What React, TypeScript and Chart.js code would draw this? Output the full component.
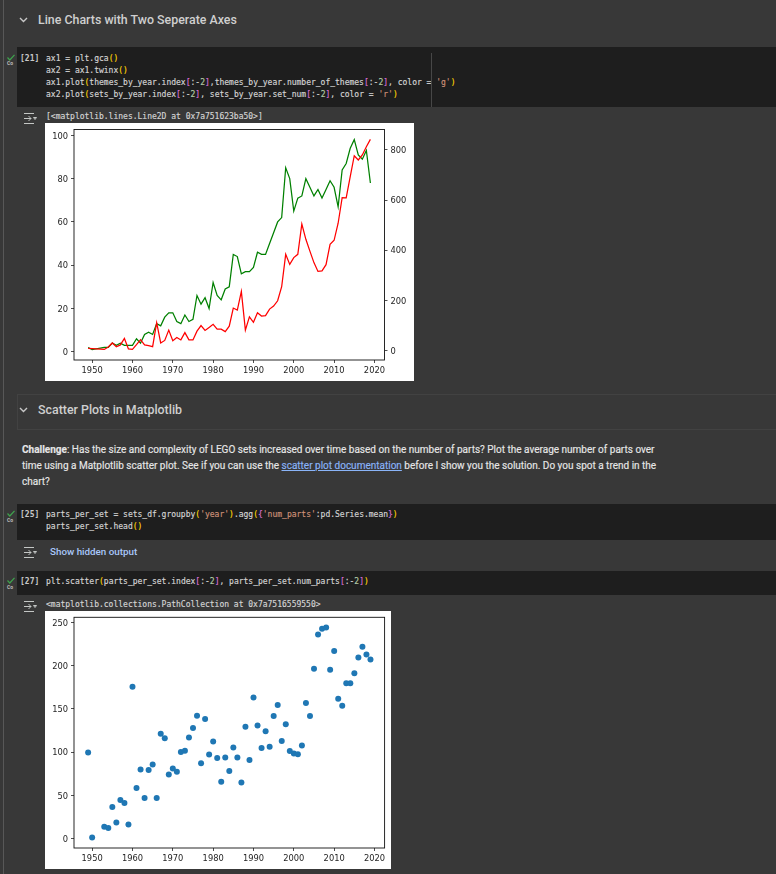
import React, { useRef, useEffect } from "react";
import Chart from "chart.js/auto";

// 1951 and 1952 have no sets in the data, so the lines jump straight across them
const years = [
  1949, 1950, 1953, 1954, 1955, 1956, 1957, 1958, 1959, 1960, 1961, 1962, 1963, 1964, 1965, 1966,
  1967, 1968, 1969, 1970, 1971, 1972, 1973, 1974, 1975, 1976, 1977, 1978, 1979, 1980, 1981, 1982,
  1983, 1984, 1985, 1986, 1987, 1988, 1989, 1990, 1991, 1992, 1993, 1994, 1995, 1996, 1997, 1998,
  1999, 2000, 2001, 2002, 2003, 2004, 2005, 2006, 2007, 2008, 2009, 2010, 2011, 2012, 2013, 2014,
  2015, 2016, 2017, 2018, 2019,
];

const themesPerYear = [
  2, 1, 2, 2, 4, 3, 4, 3, 3, 3, 6, 4, 8, 9, 8, 13,
  12, 16, 18, 18, 14, 13, 17, 14, 15, 26, 22, 25, 20, 32, 26, 24,
  29, 30, 45, 44, 36, 37, 37, 39, 46, 45, 45, 50, 55, 60, 62, 85,
  80, 65, 71, 72, 80, 76, 72, 75, 71, 75, 79, 76, 67, 84, 87, 94,
  98, 91, 89, 93, 78,
];

const setsPerYear = [
  9, 8, 5, 15, 31, 16, 23, 49, 7, 5, 24, 44, 23, 20, 16, 112,
  31, 41, 82, 40, 53, 43, 72, 43, 43, 78, 100, 81, 93, 105, 86, 86,
  76, 98, 170, 162, 236, 82, 135, 113, 151, 138, 140, 166, 178, 199, 255, 384,
  344, 371, 384, 505, 444, 397, 351, 316, 318, 343, 424, 440, 508, 610, 609, 694,
  777, 760, 780, 813, 842,
];

const partsPerSet = [
  99.8, 1.5, 13.9, 12.3, 36.6, 18.9, 44.7, 41.2, 16.6, 175.6, 58.6, 80.1, 47, 79.4, 85.9, 47,
  121.3, 116.3, 74.3, 81.3, 77.4, 100.2, 101.7, 117, 127.9, 142.1, 87.4, 138.3, 97.5, 112.5, 93.2, 65.9,
  94, 78.2, 105.5, 94, 65.1, 129.4, 90.9, 163.3, 131, 104.8, 124.4, 106.3, 141.8, 154.5, 112.9, 132.5,
  101.3, 98.6, 97.8, 107.9, 156.8, 141.8, 196.5, 236.1, 242.7, 244.2, 195.3, 216.9, 161.8, 153.7, 179.9, 179.9,
  191.4, 209.6, 221.9, 213, 207.2,
];

const yearTicks = [1950, 1960, 1970, 1980, 1990, 2000, 2010, 2020];
const themeTicks = [0, 20, 40, 60, 80, 100];
const setTicks = [0, 200, 400, 600, 800];
const partTicks = [0, 50, 100, 150, 200, 250];

const codeCell21 = [
  "ax1 = plt.gca()",
  "ax2 = ax1.twinx()",
  "ax1.plot(themes_by_year.index[:-2],themes_by_year.number_of_themes[:-2], color = 'g')",
  "ax2.plot(sets_by_year.index[:-2], sets_by_year.set_num[:-2], color = 'r')",
];
const codeCell25 = [
  "parts_per_set = sets_df.groupby('year').agg({'num_parts':pd.Series.mean})",
  "parts_per_set.head()",
];
const codeCell27 = ["plt.scatter(parts_per_set.index[:-2], parts_per_set.num_parts[:-2])"];

const zip = (ys: number[]) => years.map((x, i) => ({ x, y: ys[i] }));

const spines = {
  id: "spines",
  afterDraw(chart: any) {
    const { ctx, chartArea: a } = chart;
    ctx.save();
    ctx.strokeStyle = "#111";
    ctx.lineWidth = 0.9;
    ctx.strokeRect(a.left, a.top, a.right - a.left, a.bottom - a.top);
    ctx.restore();
  },
};

const tickFont = { family: "DejaVu Sans", size: 8.3 };

const axis = (position: string, min: number, max: number, values: number[], size: number) => ({
  type: "linear",
  position,
  min,
  max,
  border: { display: false },
  grid: { drawOnChartArea: false, drawTicks: true, tickLength: 3, tickWidth: 0.8, tickColor: "#222" },
  ticks: {
    color: "#262626",
    font: tickFont,
    padding: 3,
    labelOffset: position === "bottom" ? 0 : 1,
    autoSkip: false,
    maxRotation: 0,
    callback: (v: number) => String(v),
  },
  afterBuildTicks: (scale: any) => {
    scale.ticks = values.map((value) => ({ value }));
  },
  afterFit: (scale: any) => {
    if (position === "bottom") scale.height = size;
    else scale.width = size;
    // keep the plot box where the size says, whatever the labels want
    scale.paddingTop = scale.paddingBottom = scale.paddingLeft = scale.paddingRight = 0;
  },
});

const LinesChart = () => {
  const ref = useRef<HTMLCanvasElement>(null);
  useEffect(() => {
    const chart = new Chart(ref.current as HTMLCanvasElement, {
      type: "line",
      data: {
        datasets: [
          {
            data: zip(themesPerYear),
            yAxisID: "y",
            borderColor: "#008000",
            borderWidth: 1.25,
            pointRadius: 0,
            tension: 0,
            order: 2,
          },
          {
            data: zip(setsPerYear),
            yAxisID: "y2",
            borderColor: "#ff0000",
            borderWidth: 1.25,
            pointRadius: 0,
            tension: 0,
            order: 1,
          },
        ],
      },
      options: {
        animation: false,
        responsive: false,
        layout: { autoPadding: false, padding: { top: 6.5, right: 0, bottom: 0, left: 0 } },
        plugins: { legend: { display: false }, tooltip: { enabled: false } },
        scales: {
          x: axis("bottom", 1945.5, 2022.5, yearTicks, 21),
          y: axis("left", -3.8, 102.7, themeTicks, 29),
          y2: axis("right", -37, 881.5, setTicks, 29.5),
        },
      } as any,
      plugins: [spines],
    } as any);
    return () => chart.destroy();
  }, []);
  return (
    <canvas
      ref={ref}
      width={369}
      height={258}
      style={{ position: "absolute", left: 45, top: 123, background: "#fff", filter: "blur(0.3px)" }}
    />
  );
};

const ScatterChart = () => {
  const ref = useRef<HTMLCanvasElement>(null);
  useEffect(() => {
    const chart = new Chart(ref.current as HTMLCanvasElement, {
      type: "scatter",
      data: {
        datasets: [
          {
            data: zip(partsPerSet),
            backgroundColor: "#1f77b4",
            borderWidth: 0,
            pointRadius: 3,
          },
        ],
      },
      options: {
        animation: false,
        responsive: false,
        layout: { autoPadding: false, padding: { top: 6.3, right: 6.4, bottom: 0, left: 0 } },
        plugins: { legend: { display: false }, tooltip: { enabled: false } },
        scales: {
          x: axis("bottom", 1945.5, 2022.5, yearTicks, 21),
          y: axis("left", -10.7, 256, partTicks, 29),
        },
      } as any,
      plugins: [spines],
    } as any);
    return () => chart.destroy();
  }, []);
  return (
    <canvas
      ref={ref}
      width={346}
      height={258}
      style={{ position: "absolute", left: 45, top: 611, background: "#fff", filter: "blur(0.3px)" }}
    />
  );
};

const mono = "'DejaVu Sans Mono', monospace";

const Text = ({ x, y, style, children }: any) => (
  <div
    style={{
      position: "absolute",
      left: x,
      top: y - 10,
      height: 20,
      lineHeight: "20px",
      whiteSpace: "nowrap",
      ...style,
    }}
  >
    {children}
  </div>
);

const tokenColor = (t: string) => {
  if (t[0] === "'") return "#ce9178";
  if (t === "(" || t === ")") return "#ffd700";
  if ("[]{}".includes(t)) return "#da70d6";
  if (/^\d+$/.test(t)) return "#b5cea8";
  return undefined;
};

const CodeLine = ({ x, y, text }: { x: number; y: number; text: string }) => (
  <Text x={x} y={y} style={{ fontFamily: mono, fontSize: 8, color: "#d4d4d4", whiteSpace: "pre", WebkitTextStroke: "0.15px" }}>
    {text.split(/('[^']*'|[()\[\]{}]|\b\d+\b)/).map((t, i) => (
      <span key={i} style={{ color: tokenColor(t) }}>
        {t}
      </span>
    ))}
  </Text>
);

const Box = ({ x, y, w, h, style }: any) => (
  <div style={{ position: "absolute", left: x, top: y, width: w, height: h, ...style }} />
);

const Chevron = ({ y }: { y: number }) => (
  <svg style={{ position: "absolute", left: 19, top: y - 4 }} width="9" height="8">
    <path d="M1 2 L4.5 5.5 L8 2" fill="none" stroke="#c8c8c8" strokeWidth="1.4" />
  </svg>
);

const OutputIcon = ({ y }: { y: number }) => (
  <svg style={{ position: "absolute", left: 23, top: y - 5 }} width="14" height="11">
    <path
      d="M1 0.5 H11 M1 10.5 H11 M1 5.5 H8 M5.5 3 L8 5.5 L5.5 8 M10.5 4.5 L13.5 4.5 L12 6.5 Z"
      fill="none"
      stroke="#c4c7c5"
      strokeWidth="1"
    />
  </svg>
);

const RunBadge = ({ y }: { y: number }) => (
  <>
    <svg style={{ position: "absolute", left: 7, top: y }} width="8" height="7">
      <path d="M0.5 3.5 L2.8 6 L7.5 0.8" fill="none" stroke="#3fa34d" strokeWidth="1.2" />
    </svg>
    <Text x={7} y={y + 9.5} style={{ fontFamily: "Roboto", fontSize: 5, fontWeight: 700, color: "#bbb" }}>
      Co
    </Text>
  </>
);

const CodeCell = ({ y, h, label, lines, labelY }: any) => (
  <>
    <Box x={17} y={y} w={759} h={h} style={{ background: "#1e1e1e" }} />
    <RunBadge y={labelY - 5} />
    <Text x={20} y={labelY} style={{ fontFamily: mono, fontSize: 8, fontWeight: 700, color: "#c8c8c8" }}>
      {label}
    </Text>
    {lines.map((text: string, i: number) => (
      <CodeLine key={i} x={46} y={labelY + i * 12} text={text} />
    ))}
  </>
);

const heading = { fontFamily: "Roboto", fontSize: 12.4, fontWeight: 500, color: "#cfcfcf" };
const body = { fontFamily: "Roboto", fontSize: 10, color: "#e6e6e6", fontWeight: 400, WebkitTextStroke: "0.15px" };
const output = { fontFamily: mono, fontSize: 8, color: "#d4d4d4", WebkitTextStroke: "0.15px" };

export default function App() {
  return (
    <div style={{ position: "relative", width: 776, height: 874, overflow: "hidden", background: "#383838" }}>
      <style>{"html,body{margin:0;padding:0;overflow:hidden;background:#383838}"}</style>
      <Box x={3} y={0} w={1} h={874} style={{ background: "#585858" }} />

      <Chevron y={20} />
      <Text x={38} y={20} style={heading}>
        Line Charts with Two Seperate Axes
      </Text>

      <CodeCell y={47} h={60} label="[21]" labelY={58.5} lines={codeCell21} />
      <Box x={431} y={53} w={1} h={54} style={{ background: "#474747" }} />
      <OutputIcon y={117.5} />
      <Text x={46} y={117} style={output}>
        {"[<matplotlib.lines.Line2D at 0x7a751623ba50>]"}
      </Text>
      <LinesChart />

      <Box x={17} y={394} w={759} h={36} style={{ borderTop: "1px solid #424242", borderBottom: "1px solid #424242", borderLeft: "1px solid #424242", boxSizing: "border-box" }} />
      <Chevron y={410} />
      <Text x={38} y={410} style={heading}>
        Scatter Plots in Matplotlib
      </Text>

      <Text x={22} y={450} style={body}>
        <b>Challenge</b>: Has the size and complexity of LEGO sets increased over time based on the number of parts? Plot the average number of parts over
      </Text>
      <Text x={22} y={466} style={body}>
        time using a Matplotlib scatter plot. See if you can use the{" "}
        <span style={{ color: "#8ab4f8", textDecoration: "underline" }}>scatter plot documentation</span> before I show you the solution. Do you spot a trend in the
      </Text>
      <Text x={22} y={482} style={body}>
        chart?
      </Text>

      <CodeCell y={504} h={36} label="[25]" labelY={515} lines={codeCell25} />
      <OutputIcon y={551.5} />
      <Text x={50} y={552} style={{ fontFamily: "Roboto", fontSize: 9.8, fontWeight: 500, color: "#a8c7fa" }}>
        Show hidden output
      </Text>

      <CodeCell y={571} h={24} label="[27]" labelY={582} lines={codeCell27} />
      <OutputIcon y={606} />
      <Text x={46} y={605} style={output}>
        {"<matplotlib.collections.PathCollection at 0x7a7516559550>"}
      </Text>
      <ScatterChart />
    </div>
  );
}
